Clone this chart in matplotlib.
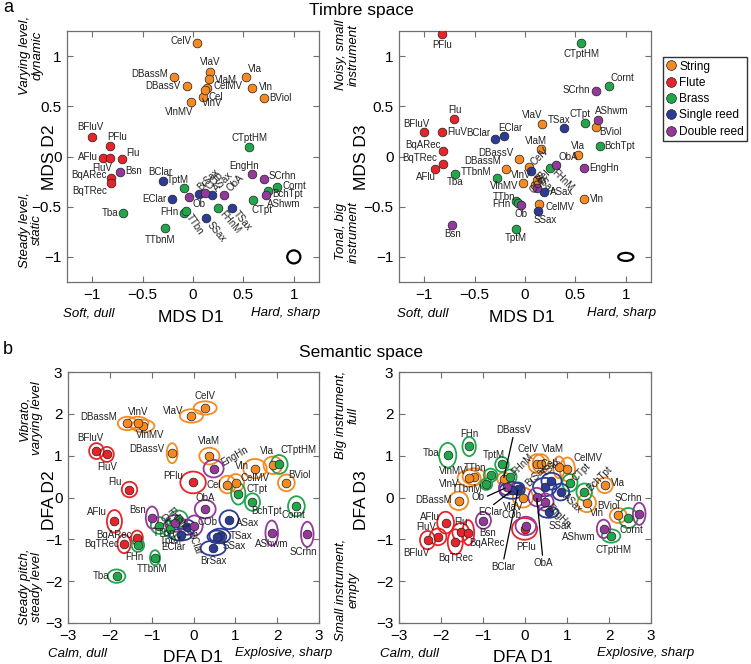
import matplotlib
matplotlib.use('Agg')
import matplotlib.pyplot as plt
from matplotlib.patches import Ellipse
from matplotlib.lines import Line2D

plt.rcParams['font.family'] = ['Liberation Sans', 'DejaVu Sans']

# ---------------- data ----------------
names = ['CelV', 'DBassM', 'DBassV', 'VlaV', 'VlaM', 'CelMV', 'Cel', 'VlnMV', 'VlnV', 'Vla', 'Vln', 'BViol',
         'BFluV', 'PFlu', 'AFlu', 'FluV', 'Flu', 'BqARec', 'BqTRec',
         'CTptHM', 'TptM', 'FHn', 'TTbn', 'TTbnM', 'Tba', 'FHnM', 'CTpt', 'BchTpt', 'Cornt',
         'BClar', 'EClar', 'BrSax', 'ASax', 'TSax', 'SSax',
         'Bsn', 'Ob', 'COb', 'ObA', 'EngHn', 'SCrhn', 'AShwm']
families = (['String'] * 12 + ['Flute'] * 7 + ['Brass'] * 10 +
            ['Single reed'] * 6 + ['Double reed'] * 7)
family_names = ['String', 'Flute', 'Brass', 'Single reed', 'Double reed']
family_colors = ['#F58A22', '#E8242B', '#21A74B', '#2C3C96', '#94399B']

mds_d1 = [0.04, -0.19, -0.06, 0.17, 0.16, 0.14, 0.10, -0.02, 0.12, 0.53, 0.59, 0.70,
          -1.00, -0.82, -0.89, -0.82, -0.70, -0.81, -0.81,
          0.56, -0.09, -0.09, -0.07, -0.28, -0.69, 0.25, 0.60, 0.74, 0.83,
          -0.30, -0.21, 0.06, 0.19, 0.39, 0.13,
          -0.72, -0.04, 0.12, 0.31, 0.59, 0.70, 0.72]
mds_d2 = [1.13, 0.79, 0.70, 0.84, 0.77, 0.68, 0.59, 0.54, 0.66, 0.79, 0.68, 0.58,
          0.19, 0.10, -0.01, -0.01, -0.02, -0.21, -0.26,
          0.09, -0.31, -0.56, -0.54, -0.71, -0.56, -0.51, -0.43, -0.34, -0.30,
          -0.24, -0.42, -0.37, -0.38, -0.51, -0.61,
          -0.15, -0.40, -0.36, -0.38, -0.17, -0.22, -0.38]
mds_d3 = [-0.10, -0.12, -0.02, 0.32, 0.07, -0.47, -0.28, -0.26, -0.23, 0.01, -0.42, 0.29,
          0.24, 1.22, -0.12, 0.24, 0.37, 0.05, -0.07,
          1.13, -0.72, -0.44, -0.46, -0.21, -0.17, -0.11, 0.33, 0.10, 0.70,
          0.17, 0.20, -0.14, -0.35, 0.28, -0.54,
          -0.68, -0.48, -0.31, -0.08, -0.11, 0.65, 0.36]
mds_err_w = [0.13, 0.15]
mds_err_h = [0.13, 0.08]

dfa_d1 = [0.28, -1.58, -0.51, -0.05, 0.38, 1.01, 0.81, -1.21, -1.33, 1.90, 1.47, 2.22,
          -2.32, -0.01, -1.89, -2.07, -1.53, -1.35, -1.66,
          2.05, -0.55, -1.33, -0.82, -0.92, -1.84, -0.36, 1.07, 1.41, 2.46,
          -0.16, -0.31, 0.47, 0.85, 0.63, 0.56,
          -0.99, -0.44, 0.02, 0.28, 0.48, 2.72, 1.87]
dfa_d2 = [2.14, 1.77, 1.06, 1.95, 0.99, 0.35, 0.31, 1.71, 1.78, 0.77, 0.69, 0.35,
          1.11, 0.36, -0.57, 1.03, 0.19, -0.96, -1.11,
          0.79, -0.75, -1.14, -0.67, -1.44, -1.88, -0.51, 0.09, -0.11, -0.21,
          -0.71, -0.89, -1.21, -0.53, -0.92, -0.94,
          -0.48, -0.62, -0.67, -0.28, 0.69, -0.88, -0.85]
dfa_d3 = [0.81, -0.08, 0.45, 0.00, 0.81, 0.67, 0.72, 0.50, 0.46, 0.29, -0.13, -0.43,
          -1.02, -0.75, -0.60, -0.94, -0.83, -0.84, -1.06,
          -0.92, 0.79, 1.22, 0.53, 0.32, 1.01, 0.49, 0.35, 0.13, -0.49,
          0.21, 0.17, 0.25, 0.13, 0.39, -0.35,
          -0.55, 0.24, -0.68, 0.01, -0.11, -0.39, -0.75]
# confidence ellipse sizes (width along D1, height along D2 / D3)
ell2_w = [0.55, 0.46, 0.26, 0.55, 0.48, 0.40, 0.40, 0.55, 0.50, 0.45, 0.56, 0.40,
          0.35, 0.61, 0.36, 0.33, 0.37, 0.28, 0.32,
          0.40, 0.40, 0.30, 0.40, 0.24, 0.42, 0.44, 0.34, 0.36, 0.40,
          0.40, 0.56, 0.60, 0.46, 0.50, 0.45,
          0.30, 0.48, 0.40, 0.50, 0.48, 0.30, 0.30]
ell2_h = [0.32, 0.32, 0.48, 0.32, 0.40, 0.42, 0.42, 0.30, 0.30, 0.42, 0.46, 0.40,
          0.38, 0.52, 0.54, 0.36, 0.37, 0.34, 0.44,
          0.45, 0.40, 0.32, 0.40, 0.36, 0.32, 0.40, 0.52, 0.42, 0.48,
          0.36, 0.28, 0.36, 0.45, 0.35, 0.30,
          0.53, 0.40, 0.48, 0.44, 0.42, 0.60, 0.60]
ell3_w = [0.40, 0.46, 0.30, 0.48, 0.40, 0.36, 0.28, 0.55, 0.55, 0.38, 0.44, 0.40,
          0.36, 0.60, 0.40, 0.40, 0.40, 0.28, 0.36,
          0.44, 0.32, 0.32, 0.32, 0.28, 0.41, 0.32, 0.36, 0.37, 0.44,
          0.30, 0.60, 0.56, 0.40, 0.48, 0.48,
          0.36, 0.36, 0.49, 0.40, 0.40, 0.30, 0.32]
ell3_h = [0.45, 0.44, 0.30, 0.48, 0.45, 0.57, 0.52, 0.40, 0.40, 0.37, 0.44, 0.36,
          0.44, 0.52, 0.52, 0.40, 0.44, 0.60, 0.60,
          0.32, 0.36, 0.46, 0.32, 0.28, 0.59, 0.36, 0.42, 0.41, 0.48,
          0.30, 0.40, 0.44, 0.40, 0.40, 0.27,
          0.40, 0.36, 0.44, 0.44, 0.41, 0.53, 0.44]

# ---------------- label placement (pixel offsets: dx right, dy up) ----------------
lab_tl = {
    'CelV': (-6, 2, 'right', 0), 'DBassM': (-6, 3, 'right', 0), 'DBassV': (-6, 0, 'right', 0),
    'VlaV': (0, 10, 'center', 0), 'VlaM': (6, -1, 'left', 0), 'CelMV': (6, 2, 'left', 0),
    'Cel': (5, 0, 'left', 0), 'VlnMV': (-12, -10, 'center', 0), 'VlnV': (7, -13, 'center', 0),
    'Vla': (2, 8, 'left', 0), 'Vln': (6, 1, 'left', 0), 'BViol': (6, 0, 'left', 0),
    'BFluV': (-2, 10, 'center', 0), 'PFlu': (7, 9, 'center', 0), 'AFlu': (-5, 1, 'right', 0),
    'FluV': (2, -10, 'right', 0), 'Flu': (4, 6, 'left', 0), 'BqARec': (-5, 3, 'right', 0),
    'BqTRec': (-4, -8, 'right', 0), 'CTptHM': (0, 9, 'center', 0), 'TptM': (-6, 8, 'center', 0),
    'FHn': (-5, 1, 'right', 0), 'TTbn': (2, -5, 'left', -55), 'TTbnM': (-5, -12, 'center', 0),
    'Tba': (-5, 0, 'right', 0), 'FHnM': (3, -4, 'left', -50), 'CTpt': (-2, -10, 'left', 0),
    'BchTpt': (5, -3, 'left', 0), 'Cornt': (6, 1, 'left', 0), 'BClar': (-2, 9, 'center', 0),
    'EClar': (-5, 0, 'right', 0), 'BrSax': (0, 5, 'left', 45), 'ASax': (3, 5, 'left', 45),
    'TSax': (3, -4, 'left', -50), 'SSax': (3, -5, 'left', -50), 'Bsn': (5, 1, 'left', 0),
    'Ob': (4, -7, 'left', 0), 'COb': (2, 5, 'left', 45), 'ObA': (4, 5, 'left', 45),
    'EngHn': (-8, 8, 'center', 0), 'SCrhn': (5, 3, 'left', 0), 'AShwm': (1, -9, 'left', 0),
}
lab_tr = {
    'CelV': (3, 3, 'left', 45), 'DBassM': (-5, 8, 'right', 0), 'DBassV': (-5, 6, 'right', 0),
    'VlaV': (-10, 9, 'center', 0), 'VlaM': (-5, 8, 'center', 0), 'CelMV': (6, -3, 'left', 0),
    'Cel': (3, 3, 'left', 45), 'VlnMV': (-5, -3, 'right', 0), 'VlnV': (-6, 5, 'right', 0),
    'Vla': (0, 9, 'center', 0), 'Vln': (5, 0, 'left', 0), 'BViol': (4, -5, 'left', 0),
    'BFluV': (-8, 8, 'center', 0), 'PFlu': (0, -11, 'center', 0), 'AFlu': (-9, -8, 'center', 0),
    'FluV': (5, 0, 'left', 0), 'Flu': (0, 9, 'center', 0), 'BqARec': (-20, 6, 'center', 0),
    'BqTRec': (-6, 6, 'right', 0), 'CTptHM': (0, -11, 'center', 0), 'TptM': (0, -9, 'center', 0),
    'FHn': (-5, -3, 'right', 0), 'TTbn': (-3, 6, 'right', 0), 'TTbnM': (-5, 6, 'right', 0),
    'Tba': (0, -8, 'center', 0), 'FHnM': (3, -3, 'left', -45), 'CTpt': (-5, 9, 'center', 0),
    'BchTpt': (5, 0, 'left', 0), 'Cornt': (2, 8, 'left', 0), 'BClar': (-4, 6, 'right', 0),
    'EClar': (7, 8, 'center', 0), 'BrSax': (3, -3, 'left', -45), 'ASax': (6, 0, 'left', 0),
    'TSax': (-5, 8, 'center', 0), 'SSax': (7, -9, 'center', 0), 'Bsn': (0, -9, 'center', 0),
    'Ob': (0, -9, 'center', 0), 'COb': (-6, -4, 'left', 45), 'ObA': (2, 8, 'left', 0),
    'EngHn': (5, 0, 'left', 0), 'SCrhn': (-5, 1, 'right', 0), 'AShwm': (14, 9, 'center', 0),
}
lab_bl = {
    'CelV': (0, 12, 'center', 0), 'DBassM': (-10, 6, 'right', 0), 'DBassV': (-8, 4, 'right', 0),
    'VlaV': (-8, 5, 'right', 0), 'VlaM': (0, 15, 'center', 0), 'CelMV': (5, 5, 'left', 0),
    'Cel': (-6, 0, 'right', 0), 'VlnMV': (7, -9, 'center', 0), 'VlnV': (0, 11, 'center', 0),
    'Vla': (-6, 14, 'center', 0), 'Vln': (-6, 3, 'right', 0), 'BViol': (13, 8, 'center', 0),
    'BFluV': (-6, 13, 'center', 0), 'PFlu': (-10, 6, 'right', 0), 'AFlu': (-8, 9, 'right', 0),
    'FluV': (0, -13, 'center', 0), 'Flu': (-8, 8, 'right', 0), 'BqARec': (-5, 3, 'right', 0),
    'BqTRec': (-5, 0, 'right', 0), 'CTptHM': (19, 14, 'center', 0), 'TptM': (0, -12, 'center', 0),
    'FHn': (-3, -12, 'center', 0), 'TTbn': (5, -7, 'center', 0), 'TTbnM': (-3, -11, 'center', 0),
    'Tba': (-7, 0, 'right', 0), 'FHnM': (-10, 10, 'left', -50), 'CTpt': (8, 5, 'left', 0),
    'BchTpt': (14, -9, 'center', 0), 'Cornt': (-3, -9, 'center', 0), 'BClar': (3, -5, 'left', -70),
    'EClar': (-7, -12, 'center', 0), 'BrSax': (0, -13, 'center', 0), 'ASax': (7, -3, 'left', 0),
    'TSax': (10, 0, 'left', 0), 'SSax': (6, -9, 'left', 0), 'Bsn': (-6, 8, 'right', 0),
    'Ob': (-14, 8, 'left', -50), 'COb': (3, 4, 'left', 0), 'ObA': (0, 11, 'center', 0),
    'EngHn': (8, 5, 'left', 30), 'SCrhn': (-4, -18, 'center', 0), 'AShwm': (0, -11, 'center', 0),
}
lab_br = {
    'CelV': (-9, 15, 'center', 0), 'DBassM': (-7, 1, 'right', 0), 'DBassV': (10, 44, 'center', 0, 'lead'),
    'VlaV': (-10, -10, 'center', 0), 'VlaM': (12, 15, 'center', 0), 'CelMV': (6, 11, 'left', 0),
    'Cel': (-4, 3, 'right', 0), 'VlnMV': (-7, 6, 'right', 0), 'VlnV': (-10, -6, 'right', 0),
    'Vla': (6, 2, 'left', 0), 'Vln': (3, -10, 'left', 0), 'BViol': (-10, 9, 'center', 0),
    'BFluV': (-11, -13, 'center', 0), 'PFlu': (2, -18, 'center', 0), 'AFlu': (-6, 6, 'right', 0),
    'FluV': (-2, 10, 'right', 0), 'Flu': (0, 10, 'center', 0), 'BqARec': (1, -10, 'left', 0),
    'BqTRec': (0, -16, 'center', 0), 'CTptHM': (2, -14, 'center', 0), 'TptM': (-8, 9, 'center', 0),
    'FHn': (0, 12, 'center', 0), 'TTbn': (-4, 7, 'right', 0), 'TTbnM': (-4, -5, 'right', 0),
    'Tba': (-8, 2, 'right', 0), 'FHnM': (3, 3, 'left', 45), 'CTpt': (4, 3, 'left', 45),
    'BchTpt': (4, 3, 'left', 45), 'Cornt': (3, -12, 'center', 0), 'BClar': (-15, -73, 'center', 0, 'lead'),
    'EClar': (-22, -17, 'center', 0, 'lead'), 'BrSax': (-18, 2, 'left', 45), 'ASax': (3, -3, 'left', -45),
    'TSax': (-8, 6, 'left', 45), 'SSax': (12, -14, 'center', 0), 'Bsn': (4, -12, 'center', 0),
    'Ob': (-22, -10, 'right', 0, 'lead'), 'COb': (-14, 11, 'center', 0), 'ObA': (6, -61, 'center', 0, 'lead'),
    'EngHn': (3, -3, 'left', -45), 'SCrhn': (-11, 16, 'center', 0), 'AShwm': (-8, -8, 'right', 0),
}

# ---------------- figure ----------------
W, H = 751, 664
fig = plt.figure(figsize=(W / 100, H / 100), dpi=100)
PX = 0.72  # points per pixel


def fx(px):
    return px / W


def fy(py):
    return 1 - py / H


def make_ax(x0, x1, y0, y1):
    return fig.add_axes([fx(x0), fy(y1), fx(x1) - fx(x0), fy(y0) - fy(y1)])


def setup(ax, lim, ticks, ticklabels):
    ax.set_xlim(-lim, lim)
    ax.set_ylim(-lim, lim)
    ax.set_xticks(ticks)
    ax.set_yticks(ticks)
    ax.set_xticklabels(ticklabels)
    ax.set_yticklabels(ticklabels)
    ax.tick_params(direction='in', length=4, width=0.8, color='#6f6f6f',
                   top=True, right=True, labelsize=11, pad=4)
    for s in ax.spines.values():
        s.set_color('#6f6f6f')
        s.set_linewidth(0.9)


def draw_points(ax, xs, ys):
    for fam, col in zip(family_names, family_colors):
        px = [x for x, f in zip(xs, families) if f == fam]
        py = [y for y, f in zip(ys, families) if f == fam]
        ax.plot(px, py, 'o', ms=6.3, mfc=col, mec='#202020', mew=0.5, zorder=3, ls='none')


def draw_ellipses(ax, xs, ys, ws, hs):
    col = dict(zip(family_names, family_colors))
    for x, y, w, h, f in zip(xs, ys, ws, hs, families):
        ax.add_patch(Ellipse((x, y), w, h, fill=False, ec=col[f], lw=1.3, zorder=2))


def draw_labels(ax, xs, ys, spec):
    for n, x, y in zip(names, xs, ys):
        s = spec.get(n, (5, 0, 'left', 0))
        dx, dy, ha, rot = s[:4]
        if len(s) > 4:
            if dy > 0:
                rel = (0.5, 0.0)
            elif ha == 'right':
                rel = (1.0, 0.5)
            else:
                rel = (0.5, 1.0)
            ax.annotate(n, (x, y), xytext=(dx * PX, dy * PX), textcoords='offset points',
                        ha=ha, va='bottom' if dy > 0 else ('center' if ha == 'right' else 'top'),
                        fontsize=7, color='#222222', zorder=5,
                        arrowprops=dict(arrowstyle='-', color='k', lw=0.9,
                                        shrinkA=0, shrinkB=1, relpos=rel))
        else:
            ax.annotate(n, (x, y), xytext=(dx * PX, dy * PX), textcoords='offset points',
                        ha=ha, va='center', rotation=rot, rotation_mode='anchor',
                        fontsize=7, color='#222222', zorder=5)


ticks_a = [-1, -0.5, 0, 0.5, 1]
tl_a = ['\u22121', '\u22120.5', '0', '0.5', '1']
ticks_b = [-3, -2, -1, 0, 1, 2, 3]
tl_b = ['\u22123', '\u22122', '\u22121', '0', '1', '2', '3']

# Panel a, left: MDS D1 vs D2
ax1 = make_ax(67, 319, 31, 282)
setup(ax1, 1.25, ticks_a, tl_a)
draw_points(ax1, mds_d1, mds_d2)
draw_labels(ax1, mds_d1, mds_d2, lab_tl)
ax1.add_patch(Ellipse((1, -1), mds_err_w[0], mds_err_h[0], fill=False, ec='k', lw=1.6))

# Panel a, right: MDS D1 vs D3
ax2 = make_ax(399, 651, 31, 282)
setup(ax2, 1.25, ticks_a, tl_a)
draw_points(ax2, mds_d1, mds_d3)
draw_labels(ax2, mds_d1, mds_d3, lab_tr)
ax2.add_patch(Ellipse((1, -1), mds_err_w[1], mds_err_h[1], fill=False, ec='k', lw=1.6))

# Panel b, left: DFA D1 vs D2
ax3 = make_ax(68, 319, 372, 623)
setup(ax3, 3, ticks_b, tl_b)
draw_ellipses(ax3, dfa_d1, dfa_d2, ell2_w, ell2_h)
draw_points(ax3, dfa_d1, dfa_d2)
draw_labels(ax3, dfa_d1, dfa_d2, lab_bl)

# Panel b, right: DFA D1 vs D3
ax4 = make_ax(399, 651, 372, 623)
setup(ax4, 3, ticks_b, tl_b)
draw_ellipses(ax4, dfa_d1, dfa_d3, ell3_w, ell3_h)
draw_points(ax4, dfa_d1, dfa_d3)
draw_labels(ax4, dfa_d1, dfa_d3, lab_br)

# legend
handles = [Line2D([], [], marker='o', ls='none', ms=7, mfc=c, mec='#202020', mew=0.5)
           for c in family_colors]
leg = fig.legend(handles, family_names, loc='upper left', bbox_to_anchor=(fx(663), fy(57)),
                 fontsize=8.6, frameon=True, fancybox=False, edgecolor='k',
                 handlelength=0.7, handletextpad=0.35, labelspacing=0.36, borderpad=0.3,
                 borderaxespad=0)
leg.get_frame().set_linewidth(1.0)

# titles and panel letters
fig.text(fx(361), fy(10), 'Timbre space', ha='center', va='center', fontsize=12.5)
fig.text(fx(361), fy(352), 'Semantic space', ha='center', va='center', fontsize=12.5)
fig.text(fx(8), fy(8), 'a', ha='center', va='center', fontsize=13)
fig.text(fx(8), fy(350), 'b', ha='center', va='center', fontsize=13)


# axis labels
def xlabels(left_txt, lx, mid_txt, mx, right_txt, rx, yy):
    fig.text(fx(lx), fy(yy), left_txt, ha='left', va='center', fontsize=9.5, style='italic')
    fig.text(fx(mx), fy(yy + 5), mid_txt, ha='center', va='center', fontsize=12.5)
    fig.text(fx(rx), fy(yy), right_txt, ha='left', va='center', fontsize=9.5, style='italic')


xlabels('Soft, dull', 63, 'MDS D1', 191, 'Hard, sharp', 251, 313)
xlabels('Soft, dull', 397, 'MDS D1', 522, 'Hard, sharp', 587, 313)
xlabels('Calm, dull', 48, 'DFA D1', 193, 'Explosive, sharp', 235, 653)
xlabels('Calm, dull', 380, 'DFA D1', 523, 'Explosive, sharp', 597, 653)


def ylabels(top_txt, bot_txt, mid_txt, dx, mx, ty, my, by):
    fig.text(fx(dx), fy(ty), top_txt, ha='center', va='center', rotation=90,
             fontsize=9.5, style='italic', multialignment='center', linespacing=1.1)
    fig.text(fx(mx), fy(my), mid_txt, ha='center', va='center', rotation=90, fontsize=12.5)
    fig.text(fx(dx), fy(by), bot_txt, ha='center', va='center', rotation=90,
             fontsize=9.5, style='italic', multialignment='center', linespacing=1.1)


ylabels('Varying level,\ndynamic', 'Steady level,\nstatic', 'MDS D2', 31, 49, 55, 157, 230)
ylabels('Noisy, small\ninstrument', 'Tonal, big\ninstrument', 'MDS D3', 347, 361, 55, 157, 232)
ylabels('Vibrato,\nvarying level', 'Steady pitch,\nsteady level', 'DFA D2', 31, 49, 418, 500, 587)
ylabels('Big instrument,\nfull', 'Small instrument,\nempty', 'DFA D3', 347, 361, 415, 500, 590)

fig.savefig('out.png', dpi=100)
